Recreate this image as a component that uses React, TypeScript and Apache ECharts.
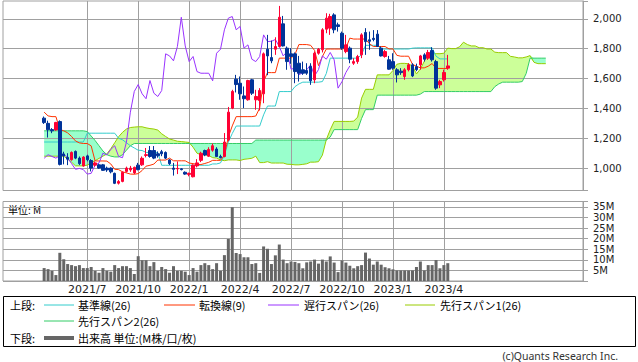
import React, { useEffect, useRef } from 'react';
import * as echarts from 'echarts';

// ---- axis / calendar ----
const AXIS_START_WEEK = '2021-02-08';
const AXIS_WEEK_COUNT = 148;
const FIRST_BAR_WEEK = '2021-04-19';
const FIRST_SPAN_WEEK = '2021-04-19';
const CHIKOU_LAG = 25;

const xTickWeeks = ['2021-07-05', '2021-10-04', '2022-01-03', '2022-04-04', '2022-07-04', '2022-10-03', '2023-01-02', '2023-04-03'];
const xTickLabels = ['2021/7', '2021/10', '2022/1', '2022/4', '2022/7', '2022/10', '2023/1', '2023/4'];
const priceTicks = [1000, 1200, 1400, 1600, 1800, 2000];
const volumeTicks = [5, 10, 15, 20, 25, 30, 35];

// ---- weekly candles (from 2021-04-19) ----
const opens = [
  1335, 1300, 1258, 1256, 1312, 1095, 1072, 1056, 1112, 1067,
  1015, 1082, 1051, 1020, 1022, 1022, 1000, 1000, 965, 899,
  911, 978, 988, 968, 1020, 1022, 1085, 1118, 1118, 1096,
  1110, 1105, 1055, 1000, 995, 995, 972, 958, 942, 1015,
  1052, 1118, 1080, 1120, 1128, 1078, 1078, 1190, 1402, 1596,
  1569, 1484, 1458, 1592, 1458, 1453, 1498, 1797, 1741, 1797,
  1815, 1967, 1804, 1766, 1766, 1703, 1659, 1654, 1681, 1592,
  1770, 1793, 1931, 1938, 2027, 1960, 1904, 1781, 1804, 1703,
  1714, 1759, 1909, 1860, 1870, 1898, 1804, 1748, 1726, 1714,
  1659, 1650, 1614, 1659, 1692, 1680, 1692, 1759, 1737, 1788,
  1714, 1558, 1592, 1670,
];
const highs = [
  1346, 1318, 1268, 1310, 1320, 1110, 1100, 1112, 1118, 1078,
  1080, 1090, 1060, 1045, 1030, 1028, 1010, 1005, 970, 920,
  978, 1010, 1015, 1010, 1035, 1078, 1135, 1148, 1148, 1112,
  1122, 1112, 1060, 1035, 1045, 1000, 978, 970, 1025, 1060,
  1110, 1124, 1140, 1165, 1140, 1090, 1235, 1410, 1525, 1625,
  1614, 1547, 1592, 1598, 1525, 1536, 1775, 1893, 1855, 1877,
  2087, 2020, 1815, 1804, 1775, 1752, 1714, 1703, 1703, 1781,
  1805, 1938, 2038, 2034, 2038, 1975, 1915, 1893, 1815, 1737,
  1759, 1904, 1938, 1915, 1925, 1925, 1815, 1792, 1752, 1770,
  1670, 1670, 1670, 1703, 1703, 1700, 1759, 1770, 1792, 1810,
  1726, 1592, 1660, 1759,
];
const lows = [
  1296, 1205, 1234, 1250, 1018, 1025, 1020, 1050, 1060, 1020,
  1010, 1045, 978, 1010, 995, 982, 975, 965, 893, 890,
  905, 970, 975, 960, 985, 1015, 1072, 1070, 1060, 1070,
  1080, 1060, 1020, 950, 960, 985, 955, 945, 938, 1005,
  1040, 1080, 1075, 1110, 1075, 1065, 1072, 1180, 1395, 1507,
  1458, 1402, 1452, 1490, 1391, 1386, 1435, 1623, 1703, 1759,
  1810, 1815, 1659, 1699, 1569, 1580, 1625, 1625, 1558, 1569,
  1760, 1775, 1904, 1893, 1904, 1915, 1793, 1770, 1703, 1692,
  1699, 1737, 1759, 1793, 1850, 1815, 1748, 1740, 1659, 1659,
  1574, 1625, 1592, 1648, 1610, 1650, 1660, 1714, 1725, 1714,
  1525, 1536, 1580, 1659,
];
const closes = [
  1305, 1257, 1250, 1306, 1025, 1082, 1060, 1105, 1067, 1030,
  1074, 1056, 1000, 1035, 1000, 985, 988, 975, 898, 910,
  972, 1000, 1000, 1005, 990, 1066, 1090, 1078, 1067, 1083,
  1096, 1067, 1030, 992, 998, 990, 960, 965, 1020, 1035,
  1100, 1088, 1125, 1150, 1078, 1070, 1175, 1375, 1514, 1560,
  1498, 1465, 1587, 1502, 1480, 1520, 1766, 1752, 1719, 1815,
  2011, 1819, 1714, 1748, 1647, 1636, 1636, 1636, 1585, 1770,
  1797, 1927, 2005, 2016, 1927, 1949, 1804, 1826, 1730, 1714,
  1748, 1893, 1848, 1850, 1862, 1815, 1752, 1781, 1663, 1670,
  1625, 1640, 1659, 1692, 1618, 1660, 1752, 1730, 1775, 1726,
  1536, 1580, 1641, 1685,
];
// volume, millions
const volumes = [
  6.1, 5.6, 4.8, 2.8, 13.3, 10.3, 8.0, 7.5, 7.0, 7.5,
  6.1, 6.1, 6.6, 4.8, 3.9, 6.1, 4.8, 4.4, 7.5, 6.1,
  7.0, 7.0, 6.1, 3.3, 11.7, 9.8, 9.8, 7.0, 8.9, 4.8,
  6.6, 5.6, 3.9, 7.0, 4.8, 4.8, 4.4, 2.8, 6.1, 4.4,
  7.5, 8.4, 7.5, 5.6, 8.4, 4.8, 12.2, 19.8, 34.8, 13.2,
  12.7, 11.2, 11.2, 8.0, 8.4, 3.8, 16.3, 15.2, 8.0, 12.1,
  17.2, 10.1, 8.4, 9.2, 9.0, 8.4, 6.0, 8.8, 9.2, 10.1,
  8.2, 10.1, 9.2, 11.6, 8.7, 4.2, 9.7, 8.7, 7.2, 6.0,
  7.0, 7.5, 13.4, 10.6, 7.7, 9.2, 7.7, 6.5, 6.0, 5.5,
  5.0, 5.0, 5.0, 5.0, 5.0, 6.6, 9.2, 5.0, 7.5, 7.5,
  9.9, 6.0, 7.5, 8.4,
];
// 転換線 (9), same weeks as candles
const tenkan = [
  1375, 1350, 1345, 1345, 1259, 1250, 1236, 1212, 1182, 1169,
  1165, 1165, 1149, 1048, 1048, 1048, 1047, 1028, 992, 990,
  975, 968, 960, 959, 963, 984, 1013, 1019, 1027, 1054,
  1054, 1054, 1067, 1049, 1049, 1049, 1049, 1034, 1030, 1025,
  1024, 1031, 1039, 1052, 1052, 1052, 1087, 1208, 1283, 1345,
  1345, 1345, 1345, 1345, 1349, 1403, 1581, 1640, 1640, 1640,
  1737, 1737, 1737, 1737, 1761, 1828, 1828, 1828, 1823, 1789,
  1687, 1748, 1798, 1798, 1798, 1798, 1798, 1804, 1871, 1865,
  1865, 1865, 1865, 1834, 1815, 1815, 1815, 1815, 1799, 1799,
  1756, 1750, 1750, 1750, 1695, 1683, 1672, 1672, 1683, 1701,
  1668, 1668, 1668, 1668,
];
// 基準線 (26), same weeks as candles
const kijun = [
  1175, 1175, 1175, 1175, 1175, 1175, 1175, 1175, 1175, 1175,
  1175, 1234, 1234, 1234, 1234, 1234, 1234, 1234, 1234, 1200,
  1190, 1170, 1150, 1135, 1120, 1118, 1105, 1105, 1105, 1105,
  1019, 1019, 1019, 1019, 1019, 1019, 1019, 1019, 1019, 1019,
  1019, 1019, 1019, 1028, 1028, 1035, 1087, 1174, 1232, 1282,
  1282, 1282, 1282, 1282, 1282, 1282, 1357, 1416, 1416, 1416,
  1513, 1513, 1513, 1513, 1546, 1564, 1576, 1576, 1576, 1576,
  1576, 1580, 1634, 1737, 1737, 1737, 1737, 1737, 1737, 1737,
  1737, 1761, 1823, 1823, 1823, 1823, 1798, 1798, 1798, 1798,
  1798, 1798, 1798, 1798, 1804, 1806, 1806, 1806, 1806, 1806,
  1750, 1732, 1732, 1732,
];
// 先行スパン1 (from 2021-04-19, runs 25 weeks past the last candle)
const span1 = [
  1080, 1080, 1080, 1080, 1080, 1080, 1060, 1040, 1015, 1015,
  1015, 1020, 1035, 1050, 1065, 1080, 1095, 1130, 1170, 1210,
  1240, 1262, 1272, 1275, 1277, 1277, 1270, 1265, 1262, 1255,
  1230, 1212, 1195, 1188, 1180, 1178, 1175, 1172, 1140, 1100,
  1090, 1089, 1085, 1070, 1067, 1055, 1050, 1055, 1055, 1055,
  1051, 1059, 1062, 1066, 1080, 1037, 1037, 1043, 1034, 1034,
  1034, 1034, 1026, 1025, 1022, 1022, 1025, 1029, 1040, 1040,
  1043, 1087, 1191, 1257, 1313, 1313, 1313, 1313, 1313, 1315,
  1342, 1469, 1528, 1528, 1528, 1625, 1625, 1625, 1625, 1654,
  1696, 1702, 1702, 1699, 1683, 1631, 1664, 1716, 1767, 1767,
  1767, 1767, 1770, 1804, 1801, 1801, 1813, 1844, 1828, 1819,
  1819, 1807, 1807, 1798, 1798, 1777, 1774, 1774, 1774, 1749,
  1745, 1739, 1739, 1745, 1754, 1709, 1700, 1700, 1700,
];
// 先行スパン2
const span2 = [
  1250, 1250, 1250, 1250, 1250, 1250, 1250, 1250, 1250, 1250,
  1250, 1245, 1215, 1185, 1150, 1115, 1090, 1080, 1075, 1075,
  1090, 1120, 1150, 1165, 1165, 1165, 1165, 1165, 1165, 1165,
  1165, 1165, 1165, 1165, 1165, 1165, 1165, 1165, 1165, 1165,
  1165, 1165, 1165, 1165, 1165, 1165, 1165, 1165, 1165, 1165,
  1165, 1165, 1165, 1165, 1188, 1188, 1188, 1188, 1188, 1188,
  1188, 1188, 1188, 1188, 1188, 1188, 1188, 1188, 1188, 1188,
  1188, 1188, 1188, 1208, 1258, 1258, 1258, 1258, 1258, 1258,
  1258, 1333, 1392, 1392, 1392, 1489, 1489, 1489, 1489, 1489,
  1489, 1489, 1489, 1489, 1489, 1489, 1496, 1513, 1513, 1513,
  1513, 1513, 1513, 1513, 1513, 1513, 1513, 1513, 1513, 1513,
  1513, 1513, 1513, 1513, 1513, 1546, 1564, 1576, 1576, 1576,
  1576, 1576, 1580, 1634, 1737, 1737, 1737, 1737, 1737,
];

const C_TENKAN = '#ff3300';
const C_KIJUN = '#33cccc';
const C_CHIKOU = '#9933ff';
const C_SPAN1 = '#99cc00';
const C_SPAN2 = '#33cc66';
const C_UP = '#ff0033';
const C_DOWN = '#003399';
const GRID_LINE = '#a0a0a0';
const NUM_FONT = '"DejaVu Sans", sans-serif';
const JP_FONT = '"Noto Sans CJK JP", sans-serif';

function weekList(): string[] {
  const out: string[] = [];
  const t0 = Date.parse(AXIS_START_WEEK + 'T00:00:00Z');
  for (let i = 0; i < AXIS_WEEK_COUNT; i++) {
    out.push(new Date(t0 + i * 7 * 86400000).toISOString().slice(0, 10));
  }
  return out;
}

export default function App() {
  const ref = useRef<HTMLDivElement>(null);

  useEffect(() => {
    if (!ref.current) return;
    const chart = echarts.init(ref.current, null, { renderer: 'svg' });
    const weeks = weekList();
    const barStart = weeks.indexOf(FIRST_BAR_WEEK);
    const spanStart = weeks.indexOf(FIRST_SPAN_WEEK);
    const place = (vals: number[], start: number): any[] =>
      weeks.map((_, i) => (i >= start && i - start < vals.length ? vals[i - start] : '-'));

    const candles = weeks.map((_, i) => {
      const j = i - barStart;
      return j >= 0 && j < opens.length ? [opens[j], closes[j], lows[j], highs[j]] : ['-', '-', '-', '-'];
    });
    const s1 = place(span1, spanStart);
    const s2 = place(span2, spanStart);
    const cloudBase = weeks.map((_, i) => (typeof s1[i] === 'number' ? Math.min(s1[i], s2[i]) : '-'));
    const cloudGreen = weeks.map((_, i) => (typeof s1[i] === 'number' ? Math.max(s1[i] - s2[i], 0) : '-'));
    const cloudAqua = weeks.map((_, i) => (typeof s1[i] === 'number' ? Math.max(s2[i] - s1[i], 0) : '-'));
    const chikou = place(closes.slice(CHIKOU_LAG), barStart);

    const gridMark = (withH: boolean, z: number) => ({
      silent: true,
      symbol: ['none', 'none'],
      z,
      label: { show: false },
      emphasis: { disabled: true },
      lineStyle: { color: GRID_LINE, width: 1, type: 'solid' },
      data: [
        ...xTickWeeks.map((w) => ({ xAxis: w })),
        ...(withH ? priceTicks.map((v) => ({ yAxis: v })) : []),
      ],
    });

    const lineSeries = (name: string, data: any[], color: string) => ({
      name,
      type: 'line',
      data,
      xAxisIndex: 0,
      yAxisIndex: 0,
      symbol: 'none',
      showSymbol: false,
      z: 3,
      silent: true,
      lineStyle: { color, width: 1 },
      emphasis: { disabled: true },
    });

    const cloudSeries = (name: string, data: any[], color: string | null, withMark: boolean) => ({
      name,
      type: 'line',
      stack: 'cloud',
      data,
      xAxisIndex: 0,
      yAxisIndex: 0,
      symbol: 'none',
      showSymbol: false,
      silent: true,
      z: 1,
      lineStyle: { width: 0, opacity: 0 },
      areaStyle: color ? { color, opacity: 1 } : undefined,
      emphasis: { disabled: true },
      markLine: withMark ? gridMark(true, 2) : undefined,
    });

    const txt = (text: string, x: number, y: number, size = 11, font = JP_FONT, align = 'left', fill = '#000') => ({
      type: 'text',
      x,
      y,
      silent: true,
      style: { text, fontSize: size, fontFamily: font, fill, align, verticalAlign: 'middle' },
    });
    const seg = (x1: number, x2: number, y: number, color: string, w = 1) => ({
      type: 'line',
      silent: true,
      shape: { x1, y1: y, x2, y2: y },
      style: { stroke: color, lineWidth: w },
    });

    const option: any = {
      animation: false,
      backgroundColor: '#fff',
      textStyle: { fontFamily: NUM_FONT },
      grid: [
        { left: 3, top: 1, width: 580, height: 189.5, show: true, borderColor: GRID_LINE, borderWidth: 1, backgroundColor: '#fff' },
        { left: 3, top: 201.5, width: 580, height: 79.5, show: true, borderColor: GRID_LINE, borderWidth: 1, backgroundColor: '#fff' },
      ],
      xAxis: [
        {
          type: 'category', gridIndex: 0, data: weeks, boundaryGap: true,
          axisLine: { show: false }, axisTick: { show: false }, axisLabel: { show: false }, splitLine: { show: false },
        },
        {
          type: 'category', gridIndex: 1, data: weeks, boundaryGap: true,
          axisLine: { show: false }, axisTick: { show: false }, splitLine: { show: false },
          axisLabel: {
            show: true,
            interval: (_i: number, v: string) => xTickWeeks.includes(v),
            formatter: (v: string) => {
              const k = xTickWeeks.indexOf(v);
              return k >= 0 ? xTickLabels[k] : '';
            },
            fontSize: 11,
            fontFamily: NUM_FONT,
            color: '#222',
            margin: 3,
          },
        },
      ],
      yAxis: [
        {
          type: 'value', gridIndex: 0, position: 'right', min: 850, max: 2120, splitNumber: 6,
          axisLine: { show: true, lineStyle: { color: GRID_LINE } },
          axisTick: { show: true, length: 5, lineStyle: { color: GRID_LINE } },
          splitLine: { show: false },
          axisLabel: {
            fontSize: 10, fontFamily: NUM_FONT, color: '#222', margin: 10,
            formatter: (v: number) => (priceTicks.includes(v) ? v.toLocaleString('en-US') : ''),
          },
        },
        {
          type: 'value', gridIndex: 1, position: 'right', min: 0, max: 37.5, interval: 5,
          axisLine: { show: true, lineStyle: { color: GRID_LINE } },
          axisTick: { show: true, length: 5, lineStyle: { color: GRID_LINE } },
          splitLine: { show: true, lineStyle: { color: GRID_LINE, width: 1 } },
          axisLabel: {
            fontSize: 10, fontFamily: NUM_FONT, color: '#222', margin: 10,
            formatter: (v: number) => (volumeTicks.includes(v) ? v + 'M' : ''),
          },
        },
      ],
      series: [
        cloudSeries('cloudBase', cloudBase, null, true),
        cloudSeries('cloudGreen', cloudGreen, '#ccff99', false),
        cloudSeries('cloudAqua', cloudAqua, '#99ffcc', false),
        lineSeries('先行スパン1(26)', s1, C_SPAN1),
        lineSeries('先行スパン2(26)', s2, C_SPAN2),
        lineSeries('基準線(26)', place(kijun, barStart), C_KIJUN),
        lineSeries('転換線(9)', place(tenkan, barStart), C_TENKAN),
        lineSeries('遅行スパン(26)', chikou, C_CHIKOU),
        {
          name: 'price',
          type: 'candlestick',
          data: candles,
          xAxisIndex: 0,
          yAxisIndex: 0,
          barWidth: 3,
          z: 4,
          silent: true,
          itemStyle: { color: C_UP, color0: C_DOWN, borderColor: C_UP, borderColor0: C_DOWN, borderWidth: 1 },
          emphasis: { disabled: true },
        },
        {
          name: '出来高',
          type: 'bar',
          data: place(volumes, barStart),
          xAxisIndex: 1,
          yAxisIndex: 1,
          barWidth: 3,
          z: 2,
          silent: true,
          itemStyle: { color: '#666666' },
          emphasis: { disabled: true },
          markLine: gridMark(false, 1),
        },
      ],
      graphic: {
        elements: [
          txt('単位: M', 8, 209, 10),
          {
            type: 'rect', silent: true,
            shape: { x: 3.5, y: 296.5, width: 632, height: 50 },
            style: { fill: '#fff', stroke: '#000', lineWidth: 1 },
          },
          txt('上段:', 10, 305),
          seg(44, 74, 305, C_KIJUN), txt('基準線(26)', 78, 305),
          seg(164, 195, 305, C_TENKAN), txt('転換線(9)', 199, 305),
          seg(268, 299, 305, C_CHIKOU), txt('遅行スパン(26)', 304, 305),
          seg(405, 435, 305, C_SPAN1), txt('先行スパン1(26)', 440, 305),
          seg(44, 74, 321, C_SPAN2), txt('先行スパン2(26)', 78, 321),
          txt('下段:', 10, 338),
          seg(44, 74, 338, '#666666', 4), txt('出来高 単位:(M株/口/枚)', 78, 338),
          txt('(c)Quants Research Inc.', 618, 356, 10.5, '"Noto Sans", sans-serif', 'right', '#333'),
        ],
      },
    };

    chart.setOption(option);
    return () => chart.dispose();
  }, []);

  return (
    <div
      ref={ref}
      style={{ position: 'absolute', left: 0, top: 0, width: 638, height: 362, background: '#fff' }}
    />
  );
}
